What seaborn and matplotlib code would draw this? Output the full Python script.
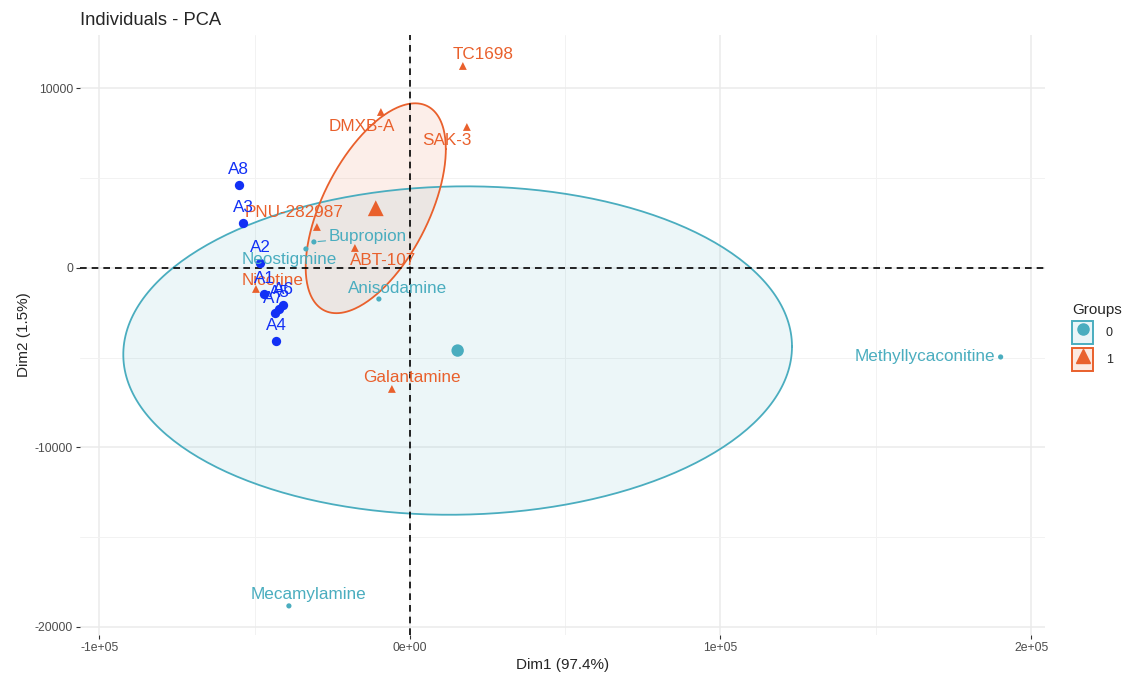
import numpy as np
import pandas as pd
import matplotlib
matplotlib.use("Agg")
import matplotlib.pyplot as plt
import seaborn as sns
from matplotlib.lines import Line2D
from matplotlib.patches import Rectangle
from matplotlib.legend_handler import HandlerTuple
from matplotlib.ticker import FixedLocator

# active individuals (coordinates on Dim1 / Dim2)
names = ["TC1698", "DMXB-A", "SAK-3", "PNU-282987", "ABT-107", "Nicotine", "Galantamine",
         "Bupropion", "Neostigmine", "Anisodamine", "Methyllycaconitine", "Mecamylamine"]
dim1 = [17060, -9330, 18350, -29930, -17700, -49560, -5790,
        -30900, -33470, -9980, 190200, -38950]
dim2 = [11254, 8690, 7855, 2284, 1114, -1170, -6740,
        1450, 1060, -1730, -4960, -18830]
groups = ["1", "1", "1", "1", "1", "1", "1", "0", "0", "0", "0", "0"]

# supplementary individuals
sup_names = ["A8", "A3", "A2", "A1", "A6", "A5", "A7", "A4"]
sup_dim1 = [-55040, -53750, -48280, -46990, -40870, -42160, -43450, -43130]
sup_dim2 = [4624, 2507, 279, -1448, -2061, -2284, -2507, -4067]

x_ticks = [-100000, 0, 100000, 200000]
x_ticklabels = ["-1e+05", "0e+00", "1e+05", "2e+05"]
y_ticks = [-20000, -10000, 0, 10000]
y_ticklabels = ["-20000", "-10000", "0", "10000"]

# ggrepel-like label offsets, in pixels
label_offsets = {
    "TC1698": (20, 11), "DMXB-A": (-19, -15), "SAK-3": (-20, -14),
    "PNU-282987": (-23, 14), "ABT-107": (28, -13), "Nicotine": (17, 8),
    "Galantamine": (20, 11), "Bupropion": (54, 5), "Neostigmine": (-17, -11),
    "Anisodamine": (19, 11), "Methyllycaconitine": (-76, 0), "Mecamylamine": (20, 11),
}
sup_offsets = {"A8": (0, 15), "A3": (0, 15), "A2": (0, 15), "A1": (0, 15),
               "A6": (1, 15), "A5": (0, 16), "A7": (-2, 14), "A4": (0, 15)}

pal = {"0": "#4AADBF", "1": "#E9602C"}
fill = {"0": "#EAF5F8", "1": "#FCE9E1"}
blue = "#1230F5"

df = pd.DataFrame({"name": names, "Dim1": dim1, "Dim2": dim2, "group": groups})
sup = pd.DataFrame({"name": sup_names, "Dim1": sup_dim1, "Dim2": sup_dim2})

sns.set_theme(style="white")
plt.rcParams["font.family"] = ["Liberation Sans", "DejaVu Sans"]

fig, ax = plt.subplots(figsize=(11.27, 6.73), dpi=100)
fig.subplots_adjust(left=0.071, right=0.927, top=0.948, bottom=0.0565)

# confidence ellipses around group barycentres (level 0.95)
chi2_95 = 5.991
t = np.linspace(0, 2 * np.pi, 300)
for g in ["0", "1"]:
    sub = df[df.group == g]
    pts = sub[["Dim1", "Dim2"]].to_numpy(float)
    m = pts.mean(axis=0)
    cov = np.cov(pts.T)
    L = np.linalg.cholesky(cov)
    k = np.sqrt(chi2_95 / len(pts))
    ell = m[:, None] + k * (L @ np.vstack([np.cos(t), np.sin(t)]))
    ax.fill(ell[0], ell[1], color=pal[g], alpha=0.1, lw=0, zorder=1)
    ax.plot(ell[0], ell[1], color=pal[g], lw=1.3, zorder=2)

ax.axhline(0, color="black", ls=(0, (4, 3)), lw=1.2, zorder=3)
ax.axvline(0, color="black", ls=(0, (4, 3)), lw=1.2, zorder=3)

sns.scatterplot(data=df, x="Dim1", y="Dim2", hue="group", style="group",
                markers={"0": "o", "1": "^"}, palette=pal, size="group",
                sizes={"0": 14, "1": 32}, linewidth=0, legend=False, ax=ax, zorder=4)

cent = df.groupby("group")[["Dim1", "Dim2"]].mean().reset_index()
sns.scatterplot(data=cent, x="Dim1", y="Dim2", hue="group", style="group",
                markers={"0": "o", "1": "^"}, palette=pal, size="group",
                sizes={"0": 80, "1": 130}, linewidth=0, legend=False, ax=ax, zorder=4)

sns.scatterplot(data=sup, x="Dim1", y="Dim2", color=blue, s=45, linewidth=0,
                legend=False, ax=ax, zorder=4)

for _, r in df.iterrows():
    dx, dy = label_offsets[r["name"]]
    arrow = None
    if r["name"] == "Bupropion":
        arrow = dict(arrowstyle="-", color=pal[r.group], lw=0.8, shrinkA=0, shrinkB=3)
    ax.annotate(r["name"], (r.Dim1, r.Dim2), xytext=(dx, dy), textcoords="offset pixels",
                ha="center", va="center", color=pal[r.group], fontsize=12.3,
                arrowprops=arrow, zorder=5)

for _, r in sup.iterrows():
    dx, dy = sup_offsets[r["name"]]
    ax.annotate(r["name"], (r.Dim1, r.Dim2), xytext=(dx, dy), textcoords="offset pixels",
                ha="center", va="center", color=blue, fontsize=12.3, zorder=5)

ax.set_xlim(-106200, 204400)
ax.set_ylim(-20450, 12980)
ax.set_xticks(x_ticks)
ax.set_xticklabels(x_ticklabels)
ax.set_yticks(y_ticks)
ax.set_yticklabels(y_ticklabels)
ax.xaxis.set_minor_locator(FixedLocator([-50000, 50000, 150000]))
ax.yaxis.set_minor_locator(FixedLocator([-15000, -5000, 5000]))
ax.grid(which="major", color="#EBEBEB", lw=1.1, zorder=0)
ax.grid(which="minor", color="#F2F2F2", lw=0.7, zorder=0)
ax.set_axisbelow(True)
for s in ax.spines.values():
    s.set_visible(False)
ax.tick_params(axis="both", which="major", length=3, width=0.8, color="#333333",
               labelsize=8.8, labelcolor="#4D4D4D", pad=2, bottom=True, left=True)
ax.tick_params(which="minor", length=0)

ax.set_xlabel("Dim1 (97.4%)", fontsize=11, labelpad=3)
ax.set_ylabel("Dim2 (1.5%)", fontsize=11, labelpad=3)
ax.set_title("Individuals - PCA", loc="left", fontsize=13.2, pad=7)

handles = []
for g, mk, ms in [("0", "o", 8), ("1", "^", 10)]:
    box = Rectangle((0, 0), 1, 1, facecolor=fill[g], edgecolor=pal[g], lw=1.4)
    dot = Line2D([], [], marker=mk, color=pal[g], markersize=ms, lw=0)
    handles.append((box, dot))
fig.legend(handles, ["0", "1"], title="Groups", loc="upper left",
           bbox_to_anchor=(1067 / 1127, 1 - 298 / 673), frameon=False,
           handler_map={tuple: HandlerTuple(ndivide=1)}, handlelength=1.7,
           handleheight=2.5, fontsize=9, title_fontsize=11, labelspacing=0.3,
           handletextpad=1.0, alignment="left", borderaxespad=0)

plt.savefig("out.png", dpi=100)
